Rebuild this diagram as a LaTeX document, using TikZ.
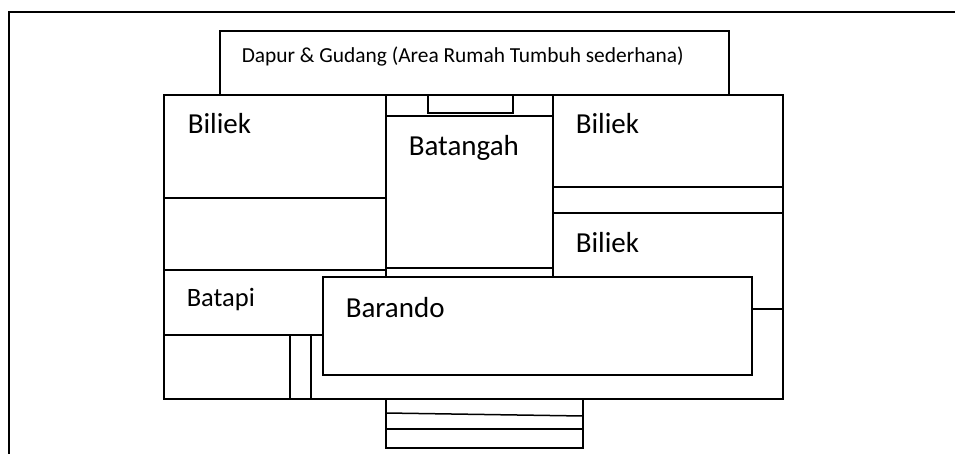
\documentclass[tikz,border=0pt]{standalone}
\usepackage{fontspec}
\setmainfont{Carlito}
\begin{document}
\begin{tikzpicture}[scale=0.3514]
\tikzstyle{every node}+=[inner sep=0pt, anchor=base west]
\tikzstyle{every path}+=[line width=1.5pt]
\tikzstyle{bigroom}=[font=\fontsize{29}{34}\selectfont]
\useasboundingbox (0,0) rectangle (95.5,-45.4);
\draw [black] (0.9,-45.4) -- (0.9,-1.2) -- (95.5,-1.2);
\draw [black] (22,-9.5) -- (22,-3.1) -- (72.9,-3.1) -- (72.9,-9.5);
\draw [black] (16.4,-9.5) rectangle (78.3,-39.9);
% rooms on the left
\draw [black] (16.4,-19.8) -- (38.6,-19.8);
\draw [black] (16.4,-27) -- (38.6,-27);
\draw [black] (16.4,-33.5) -- (32.3,-33.5);
\draw [black] (29,-33.5) -- (29,-39.9);
\draw [black] (31.1,-33.5) -- (31.1,-39.9);
% middle
\draw [black] (38.6,-9.5) -- (38.6,-27.7);
\draw [black] (55.3,-9.5) -- (55.3,-27.7);
\draw [black] (38.6,-11.6) -- (55.3,-11.6);
\draw [black] (38.6,-26.8) -- (55.3,-26.8);
\draw [black] (42.8,-9.5) -- (42.8,-11.3) -- (51.3,-11.3) -- (51.3,-9.5);
% rooms on the right
\draw [black] (55.3,-18.7) -- (78.3,-18.7);
\draw [black] (55.3,-21.3) -- (78.3,-21.3);
\draw [black] (75.2,-30.9) -- (78.3,-30.9);
\draw [black, fill=white] (32.3,-27.7) rectangle (75.2,-37.5);
% steps
\draw [black] (38.6,-39.9) -- (38.6,-44.8) -- (58.3,-44.8) -- (58.3,-39.9);
\draw [black] (38.6,-41.3) -- (58.3,-41.6);
\draw [black] (38.6,-42.9) -- (58.3,-42.9);
% labels
\node [font=\fontsize{21.4}{25}\selectfont] (dapur) at (24.1,-6.2) {Dapur \& Gudang (Area Rumah Tumbuh sederhana)};
\node [bigroom] (biliekA) at (18.7,-13.3) {Biliek};
\node [bigroom] (batangah) at (40.8,-15.5) {Batangah};
\node [bigroom] (biliekB) at (57.5,-13.3) {Biliek};
\node [bigroom] (biliekC) at (57.5,-25.2) {Biliek};
\node [font=\fontsize{26.5}{31}\selectfont] (batapi) at (18.6,-30.6) {Batapi};
\node [bigroom] (barando) at (34.5,-31.7) {Barando};
\end{tikzpicture}
\end{document}
